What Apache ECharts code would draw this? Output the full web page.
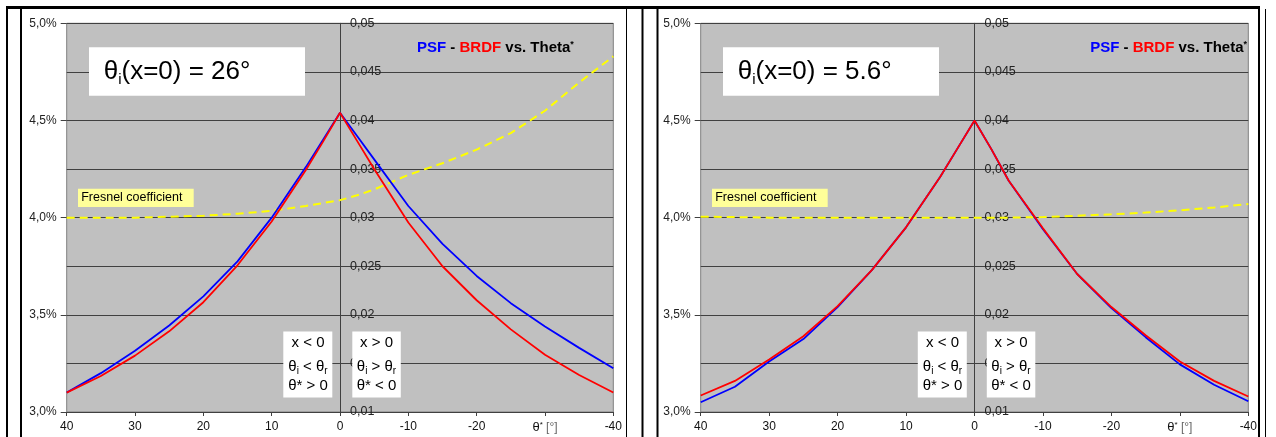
<!DOCTYPE html>
<html>
<head>
<meta charset="utf-8">
<script src="https://cdn.jsdelivr.net/npm/echarts@6/dist/echarts.min.js"></script>
<style>
html, body { margin: 0; padding: 0; background: #fff; }
#chart { width: 1276px; height: 437px; }
</style>
</head>
<body>
<div id="chart"></div>
<script>
// theta* in degrees (axis runs 40 -> -40)
var theta = [40, 35, 30, 25, 20, 15, 10, 5, 2.5, 0, -2.5, -5, -10, -15, -20, -25, -30, -35, -40];

// panel 1 : theta_i(x=0) = 26
var psf26     = [0.0120, 0.0140, 0.0163, 0.0189, 0.0219, 0.0255, 0.0300, 0.0352, 0.0380, 0.0408, 0.0384, 0.0360, 0.0312, 0.0273, 0.0240, 0.0212, 0.0188, 0.0166, 0.0145];
var brdf26    = [0.0120, 0.0137, 0.0158, 0.0183, 0.0213, 0.0251, 0.0296, 0.0349, 0.0378, 0.0408, 0.0379, 0.0350, 0.0295, 0.0250, 0.0215, 0.0185, 0.0159, 0.0138, 0.0120];
var fresnel26 = [4.000, 4.000, 4.000, 4.005, 4.010, 4.020, 4.035, 4.060, 4.075, 4.090, 4.115, 4.145, 4.220, 4.280, 4.350, 4.435, 4.550, 4.695, 4.830];

// panel 2 : theta_i(x=0) = 5.6
var psf56     = [0.0110, 0.0126, 0.0152, 0.0175, 0.0208, 0.0246, 0.0290, 0.0342, 0.0371, 0.0400, 0.0370, 0.0338, 0.0288, 0.0242, 0.0207, 0.0177, 0.0149, 0.0128, 0.0111];
var brdf56    = [0.0117, 0.0132, 0.0154, 0.0178, 0.0209, 0.0246, 0.0290, 0.0342, 0.0371, 0.0400, 0.0370, 0.0338, 0.0289, 0.0242, 0.0208, 0.0179, 0.0152, 0.0132, 0.0116];
var fresnel56 = [4.005, 4.003, 4.000, 4.000, 4.000, 4.000, 4.000, 4.000, 4.000, 4.000, 4.000, 4.000, 4.003, 4.010, 4.017, 4.026, 4.038, 4.052, 4.070];

var xTitleTick = -30;   // Excel put the axis title over this tick
var FONT = 'Liberation Sans, Arial, sans-serif';

function pair(xs, ys) {
  return xs.map(function (x, i) { return [x, ys[i]]; });
}

function xAxisFor(g) {
  return {
    gridIndex: g, type: 'value', min: -40, max: 40, interval: 10, inverse: true,
    axisLine: { show: false },
    axisTick: { length: 4, lineStyle: { color: '#404040' } },
    splitLine: { show: false },
    axisLabel: {
      margin: 9, fontSize: 12, color: '#111', fontFamily: FONT,
      showMinLabel: true, showMaxLabel: true,
      formatter: function (v) {
        return v === xTitleTick ? '{t|θ}{s|*}{g| [°]}' : String(v);
      },
      rich: {
        t: { fontSize: 13, color: '#111', fontFamily: FONT },
        s: { fontSize: 8, color: '#111', verticalAlign: 'top', fontFamily: FONT },
        g: { fontSize: 12, color: '#666', fontFamily: FONT }
      }
    }
  };
}

function pctAxis(g) {
  return {
    gridIndex: g, type: 'value', position: 'left', min: 3, max: 5, interval: 0.5,
    axisLine: { show: false, onZero: false },
    axisTick: { show: true, length: 6, lineStyle: { color: '#404040' } },
    splitLine: { show: false },
    axisLabel: {
      margin: 10, fontSize: 12, color: '#222', fontFamily: FONT,
      formatter: function (v) { return v.toFixed(1).replace('.', ',') + '%'; }
    }
  };
}

// the 0,01..0,05 axis sits on theta* = 0, pulled in from the right edge
function midAxis(g, halfWidth) {
  return {
    gridIndex: g, type: 'value', position: 'right', offset: -halfWidth,
    min: 0.01, max: 0.05, interval: 0.005,
    axisLine: { show: true, onZero: false, lineStyle: { color: '#404040' } },
    axisTick: { show: true, length: 3, lineStyle: { color: '#404040' } },
    splitLine: { show: true, lineStyle: { color: '#404040', width: 1 } },
    axisLabel: {
      margin: 10, fontSize: 12.5, color: '#222', fontFamily: FONT,
      formatter: function (v) { return String(+v.toFixed(3)).replace('.', ','); }
    }
  };
}

function lineSeries(name, g, yIdx, data, color, dashed) {
  return {
    name: name, type: 'line', xAxisIndex: g, yAxisIndex: yIdx,
    data: data, showSymbol: false, symbol: 'none', animation: false,
    lineStyle: dashed ? { color: color, width: 2, type: [8, 5] } : { color: color, width: 1.8 }
  };
}

function rect(x, y, w, h, fill) {
  return { type: 'rect', silent: true, z: 50, shape: { x: x, y: y, width: w, height: h }, style: { fill: fill } };
}

function text(x, y, str, style) {
  var s = { text: str, fontFamily: FONT, fill: '#000', verticalAlign: 'middle' };
  for (var k in style) s[k] = style[k];
  return { type: 'text', silent: true, z: 51, x: x, y: y, style: s };
}

var subRich = {
  n: { fontSize: 15, lineHeight: 18, fontFamily: FONT, fill: '#000' },
  i: { fontSize: 10, lineHeight: 11, verticalAlign: 'bottom', fontFamily: FONT, fill: '#000' }
};

function panelDecor(x0, cx, titleX, titleAlign, label) {
  var titleRich = {
    b: { fill: '#0000FF', fontSize: 15, fontWeight: 'bold', fontFamily: FONT },
    k: { fill: '#000', fontSize: 15, fontWeight: 'bold', fontFamily: FONT },
    r: { fill: '#FF0000', fontSize: 15, fontWeight: 'bold', fontFamily: FONT },
    sup: { fill: '#000', fontSize: 9, fontWeight: 'bold', verticalAlign: 'top', fontFamily: FONT }
  };
  return [
    text(titleX, 48, '{b|PSF}{k| - }{r|BRDF}{k| vs. Theta}{sup|*}', { align: titleAlign, rich: titleRich }),
    rect(x0 + 22.3, 47.3, 216, 48.5, '#fff'),
    text(x0 + 37, 72, '{a|θ}{i|i}{a|(x=0) = ' + label + '°}', {
      rich: {
        a: { fontSize: 26, lineHeight: 30, fontFamily: FONT, fill: '#000' },
        i: { fontSize: 15, lineHeight: 16, verticalAlign: 'bottom', fontFamily: FONT, fill: '#000' }
      }
    }),
    rect(x0 + 11.3, 188.7, 115.7, 18.3, '#FFFF99'),
    text(x0 + 14.5, 198, 'Fresnel coefficient', { fontSize: 12.5 }),
    rect(cx - 56.7, 331.5, 49, 66, '#fff'),
    rect(cx + 12.3, 331.5, 48.5, 66, '#fff'),
    text(cx - 32, 343, 'x < 0', { fontSize: 15, align: 'center' }),
    text(cx - 32, 367, '{n|θ}{i|i}{n| < θ}{i|r}', { align: 'center', rich: subRich }),
    text(cx - 32, 386, 'θ* > 0', { fontSize: 15, align: 'center' }),
    text(cx + 36.5, 343, 'x > 0', { fontSize: 15, align: 'center' }),
    text(cx + 36.5, 367, '{n|θ}{i|i}{n| > θ}{i|r}', { align: 'center', rich: subRich }),
    text(cx + 36.5, 386, 'θ* < 0', { fontSize: 15, align: 'center' })
  ];
}

var frames = [
  rect(6, 6, 1254, 3, '#000'),
  rect(6, 6, 2, 431, '#000'),
  rect(20, 8, 2, 429, '#000'),
  rect(626, 8, 1, 429, '#000'),
  rect(641.5, 6, 2, 431, '#000'),
  rect(656.5, 6, 2, 431, '#000'),
  rect(1258, 6, 2, 431, '#000'),
  rect(1265, 9, 1, 428, '#000')
];

var chart = echarts.init(document.getElementById('chart'), null, { renderer: 'canvas' });
chart.setOption({
  backgroundColor: '#fff',
  animation: false,
  textStyle: { fontFamily: FONT },
  grid: [
    { left: 66.7, top: 23.3, width: 546.6, height: 388.7, show: true, backgroundColor: '#C0C0C0',
      borderColor: '#808080', borderWidth: 1, containLabel: false, outerBoundsMode: 'none' },
    { left: 700.7, top: 23.3, width: 547.6, height: 388.7, show: true, backgroundColor: '#C0C0C0',
      borderColor: '#808080', borderWidth: 1, containLabel: false, outerBoundsMode: 'none' }
  ],
  xAxis: [xAxisFor(0), xAxisFor(1)],
  yAxis: [pctAxis(0), midAxis(0, 273.3), pctAxis(1), midAxis(1, 273.8)],
  series: [
    lineSeries('Fresnel coefficient', 0, 0, pair(theta, fresnel26), '#FFFF00', true),
    lineSeries('PSF', 0, 1, pair(theta, psf26), '#0000FF'),
    lineSeries('BRDF', 0, 1, pair(theta, brdf26), '#FF0000'),
    lineSeries('Fresnel coefficient', 1, 2, pair(theta, fresnel56), '#FFFF00', true),
    lineSeries('PSF', 1, 3, pair(theta, psf56), '#0000FF'),
    lineSeries('BRDF', 1, 3, pair(theta, brdf56), '#FF0000')
  ],
  graphic: frames
    .concat(panelDecor(66.7, 340, 417, 'left', '26'))
    .concat(panelDecor(700.7, 974.5, 1247, 'right', '5.6'))
});
</script>
</body>
</html>
